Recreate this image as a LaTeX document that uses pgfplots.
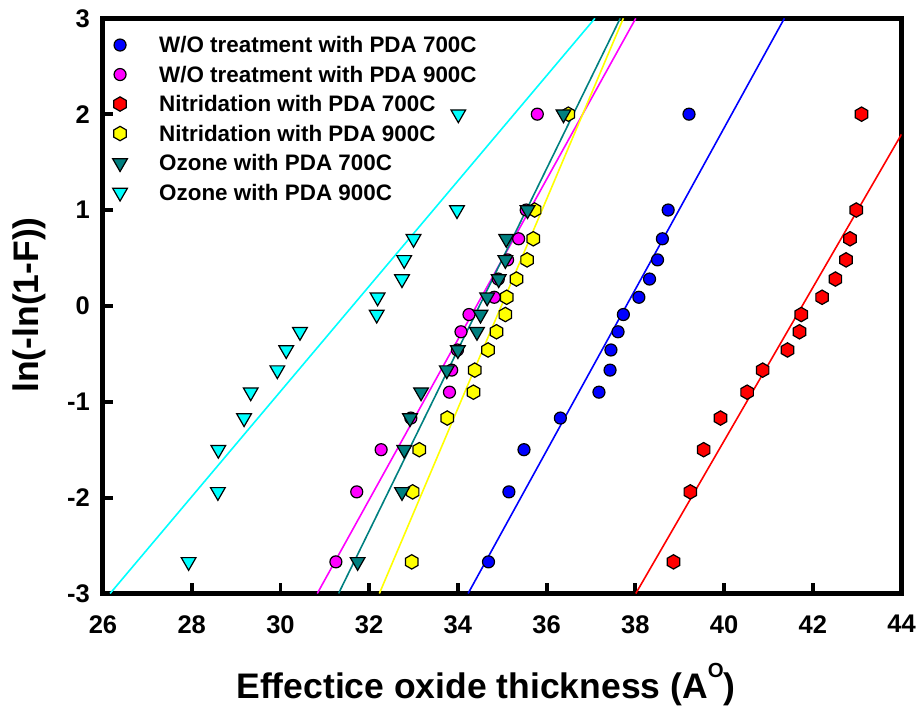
\documentclass[border=0pt]{standalone}
\usepackage{pgfplots}
\pgfplotsset{compat=1.18}
\usepackage{pgfplotstable}
\usepackage{fontspec}
\setmainfont{Liberation Sans}
\definecolor{tealC}{RGB}{0,128,128}
\definecolor{blueC}{RGB}{0,0,255}
\definecolor{magC}{RGB}{255,0,255}
\definecolor{redC}{RGB}{255,0,0}
\definecolor{yelC}{RGB}{255,255,0}
\definecolor{cyanC}{RGB}{0,255,255}

\pgfdeclareplotmark{hexagon*}{%
  \pgfpathmoveto{\pgfqpointpolar{90}{\pgfplotmarksize}}%
  \pgfpathlineto{\pgfqpointpolar{150}{\pgfplotmarksize}}%
  \pgfpathlineto{\pgfqpointpolar{210}{\pgfplotmarksize}}%
  \pgfpathlineto{\pgfqpointpolar{270}{\pgfplotmarksize}}%
  \pgfpathlineto{\pgfqpointpolar{330}{\pgfplotmarksize}}%
  \pgfpathlineto{\pgfqpointpolar{30}{\pgfplotmarksize}}%
  \pgfpathclose
  \pgfusepathqfillstroke}

\pgfplotstableread{
x y
34.69 -2.67
35.15 -1.94
35.49 -1.50
36.31 -1.17
37.18 -0.90
37.43 -0.67
37.45 -0.46
37.61 -0.27
37.73 -0.09
38.08 0.09
38.32 0.28
38.50 0.48
38.61 0.70
38.74 1.00
39.21 2.00
}\blueA

\pgfplotstableread{
x y
31.25 -2.67
31.72 -1.94
32.27 -1.50
32.94 -1.17
33.81 -0.90
33.86 -0.67
33.99 -0.46
34.07 -0.27
34.25 -0.09
34.82 0.09
34.91 0.28
35.12 0.48
35.37 0.70
35.54 1.00
35.79 2.00
}\magA

\pgfplotstableread{
x y
38.86 -2.67
39.24 -1.94
39.54 -1.50
39.92 -1.17
40.52 -0.90
40.87 -0.67
41.43 -0.46
41.70 -0.27
41.74 -0.09
42.21 0.09
42.51 0.28
42.75 0.48
42.84 0.70
42.98 1.00
43.10 2.00
}\redA

\pgfplotstableread{
x y
32.96 -2.67
32.98 -1.94
33.13 -1.50
33.76 -1.17
34.35 -0.90
34.38 -0.67
34.68 -0.46
34.87 -0.27
35.07 -0.09
35.10 0.09
35.32 0.28
35.56 0.48
35.70 0.70
35.73 1.00
36.49 2.00
}\yelA

\pgfplotstableread{
x y
31.74 -2.67
32.74 -1.94
32.79 -1.50
32.92 -1.17
33.17 -0.90
33.75 -0.67
34.00 -0.46
34.43 -0.27
34.51 -0.09
34.66 0.09
34.92 0.28
35.07 0.48
35.09 0.70
35.57 1.00
36.38 2.00
}\tealA

\pgfplotstableread{
x y
27.93 -2.67
28.59 -1.94
28.60 -1.50
29.18 -1.17
29.33 -0.90
29.93 -0.67
30.13 -0.46
30.44 -0.27
32.17 -0.09
32.19 0.09
32.74 0.28
32.79 0.48
33.00 0.70
33.98 1.00
34.01 2.00
}\cyanA

\begin{document}
\begin{tikzpicture}
\begin{axis}[
  scale only axis,
  width=798.5pt, height=575.2pt,
  xmin=26, xmax=44, ymin=-3, ymax=3,
  xtick={26,28,...,44}, ytick={-3,-2,...,3},
  tick align=inside,
  xtick pos=left, ytick pos=left,
  major tick length=10pt,
  tick style={black, line width=3.8pt},
  axis line style={line width=5pt, line cap=rect},
  /pgf/number format/assume math mode=true,
  ticklabel style={font=\fontsize{25.5pt}{25.5pt}\selectfont\bfseries},
  xticklabel style={inner sep=0pt, anchor=north, yshift=-21.5pt},
  yticklabel style={inner sep=0pt, anchor=east, xshift=-13pt},
  xlabel={Effectice oxide thickness (A\raisebox{20.7pt}{\fontsize{20.4pt}{20.4pt}\selectfont O})},
  ylabel={ln(-ln(1-F))},
  every axis x label/.style={at={(axis description cs:0.4797,-0.1817)}, anchor=base,
    font=\fontsize{35.5pt}{35.5pt}\selectfont\bfseries},
  every axis y label/.style={at={(axis description cs:-0.0808,0.5016)}, rotate=90, anchor=base,
    font=\fontsize{35.5pt}{35.5pt}\selectfont\bfseries},
  legend image code/.code={\draw[#1] plot coordinates {(0pt,0pt)};},
  legend cell align=left,
  legend style={draw=none, fill=none, at={(axis description cs:0,1)}, anchor=north west,
    xshift=9.5pt, yshift=-18pt, inner sep=0pt, row sep=12.4pt, column sep=31.8pt,
    font=\fontsize{22.4pt}{22.4pt}\selectfont\bfseries,
    nodes={inner sep=0pt, text height=16.1pt, text depth=1pt}},
]
% fitted lines
\addplot[forget plot, blueC, line width=1.6pt] coordinates {(34.23,-3) (41.36,3)};
\addplot[forget plot, magC, line width=1.6pt] coordinates {(30.83,-3) (38.01,3)};
\addplot[forget plot, redC, line width=1.6pt] coordinates {(38.01,-3) (44,1.79)};
\addplot[forget plot, yelC, line width=1.6pt] coordinates {(32.23,-3) (37.73,3)};
\addplot[forget plot, tealC, line width=1.6pt] coordinates {(31.31,-3) (37.66,3)};
\addplot[forget plot, cyanC, line width=1.6pt] coordinates {(26.16,-3) (37.09,3)};
% data
\addplot[only marks, mark=*, mark size=6pt, draw=black, fill=blueC, line width=1.2pt] table {\blueA};
\addlegendentry{W/O treatment with PDA 700C}
\addplot[only marks, mark=*, mark size=6pt, draw=black, fill=magC, line width=1.2pt] table {\magA};
\addlegendentry{W/O treatment with PDA 900C}
\addplot[only marks, mark=hexagon*, mark size=7.2pt, draw=black, fill=redC, line width=1.2pt] table {\redA};
\addlegendentry{Nitridation with PDA 700C}
\addplot[only marks, mark=hexagon*, mark size=7.2pt, draw=black, fill=yelC, line width=1.2pt] table {\yelA};
\addlegendentry{Nitridation with PDA 900C}
\addplot[only marks, mark=triangle*, mark size=8.5pt, mark options={rotate=180}, draw=black, fill=tealC, line width=1.2pt] table {\tealA};
\addlegendentry{Ozone with PDA 700C}
\addplot[only marks, mark=triangle*, mark size=8.5pt, mark options={rotate=180}, draw=black, fill=cyanC, line width=1.2pt] table {\cyanA};
\addlegendentry{Ozone with PDA 900C}
\end{axis}
\pgfresetboundingbox
\path (-103pt,-117.5pt) rectangle (818pt,593.5pt);
\end{tikzpicture}
\end{document}
